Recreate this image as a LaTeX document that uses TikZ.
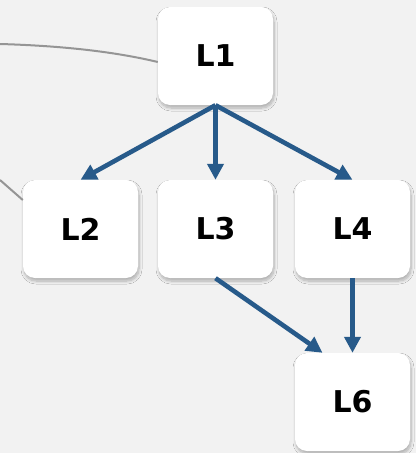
\documentclass[tikz,border=0pt]{standalone}
\usepackage{fontspec}
\setmainfont{DejaVu Sans}
\usetikzlibrary{arrows.meta,shadows.blur}
\definecolor{bgc}{HTML}{F2F2F2}
\definecolor{arrowc}{HTML}{275A8A}
\definecolor{grayline}{HTML}{959595}
\tikzset{
  box/.style={fill=white, draw=none, rounded corners=12pt,
    minimum width=115pt, minimum height=98pt, inner sep=0pt,
    font=\bfseries\fontsize{30}{36}\selectfont, text=black,
    blur shadow={shadow xshift=1pt, shadow yshift=-3pt, shadow blur steps=8, shadow opacity=28, shadow blur radius=3pt}},
  flow/.style={draw=arrowc, line width=4.6pt, -{Triangle[length=16pt,width=16pt]}},
  faint/.style={draw=grayline, line width=2pt}
}
\begin{document}
\begin{tikzpicture}[x=1pt,y=-1pt]
\fill[bgc] (0,0) rectangle (416,453);
\useasboundingbox (0,0) rectangle (416,453);
\coordinate (g1) at (0,44);
\coordinate (g2) at (0,180);
\node[box] (L1) at (215.5,56) {L1};
\node[box] (L2) at (80.5,229) {L2};
\node[box] (L3) at (215.5,229) {L3};
\node[box] (L4) at (352.5,229) {L4};
\node[box] (L6) at (352.5,402) {L6};
\coordinate (L6in) at ([xshift=-30pt]L6.north);
\draw[faint] (g1) .. controls (70,46) and (120,53) .. ([yshift=-6pt]L1.west);
\draw[faint] (g2) -- ([yshift=29pt]L2.west);
\draw[flow] (L1.south) -- (L2.north);
\draw[flow] (L1.south) -- (L3.north);
\draw[flow] (L1.south) -- (L4.north);
\draw[flow] (L3.south) -- (L6in);
\draw[flow] (L4.south) -- (L6.north);
\end{tikzpicture}
\end{document}
